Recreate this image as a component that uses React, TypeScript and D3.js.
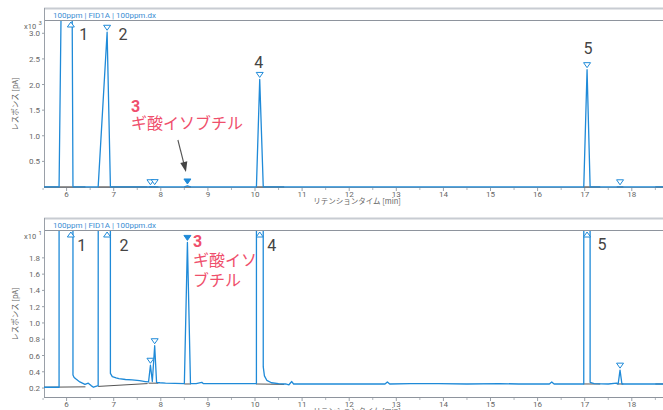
import * as d3 from "d3";

const W = 663;
const H = 410;

// chromatogram, retention time [min] / response [pA]
const signal: [number, number][] = [
  [5.52, 2.1], [5.7, 2.1], [5.84, 2.1], [5.89, 4000], [6.09, 9000], [6.135, 3.6],
  [6.16, 3.3], [6.2, 3.1], [6.28, 2.75], [6.39, 2.45], [6.46, 2.6], [6.52, 2.3],
  [6.57, 2.1], [6.62, 2.2], [6.67, 2.3], [6.86, 3020], [6.93, 3.8], [6.97, 3.4],
  [7.05, 3.25], [7.11, 3.15], [7.25, 3.05], [7.39, 3.0], [7.55, 2.9], [7.67, 2.8],
  [7.74, 2.75], [7.78, 4.8], [7.82, 2.8], [7.87, 7.2], [7.91, 2.7], [7.98, 2.65],
  [8.1, 2.6], [8.3, 2.58], [8.5, 2.55], [8.565, 19.9], [8.63, 2.55], [8.75, 2.55],
  [8.87, 2.7], [8.9, 2.55], [9.2, 2.55], [9.6, 2.55], [9.9, 2.55], [10.03, 2.55],
  [10.1, 2100], [10.175, 4.6], [10.2, 3.5], [10.25, 2.95], [10.35, 2.65], [10.5, 2.55],
  [10.65, 2.5], [10.72, 2.4], [10.78, 2.8], [10.82, 2.5], [11.2, 2.5], [11.6, 2.5],
  [12.0, 2.5], [12.5, 2.5], [12.76, 2.5], [12.81, 2.75], [12.86, 2.5], [13.3, 2.55],
  [13.9, 2.55], [14.5, 2.5], [15.2, 2.55], [15.6, 2.5], [16.1, 2.5], [16.25, 2.5],
  [16.3, 2.75], [16.35, 2.5], [16.7, 2.5], [16.98, 2.5], [17.05, 2290], [17.115, 2.7],
  [17.2, 2.55], [17.5, 2.5], [17.68, 2.6], [17.71, 2.5], [17.75, 4.2], [17.79, 2.5],
  [18.0, 2.5], [18.3, 2.5], [18.7, 2.5],
];

// integration baselines [t0, pA0, t1, pA1]
const baselines: [number, number, number, number][] = [
  [5.52, 2.1, 6.4, 2.15],
  [6.67, 2.2, 7.72, 2.55],
  [7.74, 2.6, 7.95, 2.6],
  [8.5, 2.5, 8.64, 2.5],
  [10.02, 2.5, 10.62, 2.45],
  [16.97, 2.5, 17.33, 2.5],
  [17.68, 2.5, 17.82, 2.5],
  [18.5, 2.5, 18.7, 2.5],
];

// detected peak apexes
const peakTimes = [6.09, 6.86, 7.78, 7.87, 8.565, 10.1, 17.05, 17.75];
const peakHeights = [9000, 3020, 4.8, 7.2, 19.9, 2100, 2290, 4.2];
const peakFilled = [false, false, false, false, true, false, false, false];

const xTicks = d3.range(6, 19, 1);
const xMinor = d3.range(5.5, 19, 1);
const topTicks = [0.5, 1.0, 1.5, 2.0, 2.5, 3.0];
const bottomTicks = [0.2, 0.4, 0.6, 0.8, 1.0, 1.2, 1.4, 1.6, 1.8];

const title = "100ppm | FID1A | 100ppm.dx";
const xTitle = "リテンションタイム [min]";
const yTitle = "レスポンス [pA]";
const compound = "ギ酸イソブチル";

const BLUE = "#1f8ad8";
const PINK = "#ef4f6c";
const FONT = "Roboto, 'Noto Sans CJK JP', Arial, sans-serif";
const JP = "'Noto Sans CJK JP', Roboto, sans-serif";

const left = 44;
const x = d3.scaleLinear().domain([5.52, 19]).range([left, left + 47.1 * 13.48]);

const panels = [
  { id: "a", frameTop: 8, plotTop: 21, plotBottom: 187, exp: 3, domain: [0, 3.24], ticks: topTicks },
  { id: "b", frameTop: 218, plotTop: 231, plotBottom: 397, exp: 1, domain: [0.09, 2.13], ticks: bottomTicks },
];

function Panel({ p }: { p: (typeof panels)[number] }) {
  const k = Math.pow(10, p.exp);
  const y = d3.scaleLinear().domain(p.domain).range([p.plotBottom, p.plotTop]);
  const line = d3
    .line<[number, number]>()
    .x((d) => x(d[0]))
    .y((d) => y(d[1] / k));
  const fmt = d3.format(".1f");

  const markers = peakTimes.map((t, i) => {
    const cx = x(t);
    const ay = y(peakHeights[i] / k);
    if (ay < p.plotTop + 8) {
      const ty = p.plotTop + 1;
      return { d: `M${cx},${ty}L${cx - 3.5},${ty + 5}L${cx + 3.5},${ty + 5}Z`, filled: peakFilled[i] };
    }
    const ty = ay - 7;
    return { d: `M${cx - 3.5},${ty}L${cx + 3.5},${ty}L${cx},${ty + 5}Z`, filled: peakFilled[i] };
  });

  const top = p.id === "a";
  const lbl = (n: string, t: number, dx: number, by: number) => (
    <text key={n} x={x(t) + dx} y={by} textAnchor="middle" fontSize={16} fill="#444" fontFamily={FONT}>
      {n}
    </text>
  );

  const tip = { x: x(8.565) - 1.5, y: y(0) - 15 };

  return (
    <g>
      <defs>
        <clipPath id={`clip-${p.id}`}>
          <rect x={left} y={p.plotTop} width={W - left + 40} height={p.plotBottom - p.plotTop + 1} />
        </clipPath>
      </defs>
      {/* frame + title bar */}
      <line x1={left} x2={W + 10} y1={p.frameTop + 0.5} y2={p.frameTop + 0.5} stroke="#c8ccd2" strokeWidth={2} />
      <line x1={left} x2={W + 10} y1={p.plotTop - 0.5} y2={p.plotTop - 0.5} stroke="#8e949d" />
      <line x1={left + 0.5} x2={left + 0.5} y1={p.frameTop} y2={p.plotBottom} stroke="#9aa0a8" />
      <line x1={left} x2={W + 10} y1={p.plotBottom + 0.5} y2={p.plotBottom + 0.5} stroke="#8e949d" />
      <text x={53} y={p.frameTop + 9.5} fontSize={8} fill="#3b8ed3" fontFamily={FONT}>
        {title}
      </text>

      {/* y axis */}
      {p.ticks.map((v) => (
        <g key={v}>
          <line x1={left - 2} x2={left} y1={y(v)} y2={y(v)} stroke="#9aa0a8" />
          <text x={40} y={y(v) + 3} textAnchor="end" fontSize={8} fill="#666" fontFamily={FONT}>
            {fmt(v)}
          </text>
        </g>
      ))}
      <text x={24} y={p.plotTop + 7.5} fontSize={7.5} fill="#666" fontFamily={FONT}>
        x10
      </text>
      <text x={38.5} y={p.plotTop + 4} fontSize={6} fill="#666" fontFamily={FONT}>
        {p.exp}
      </text>
      <text
        transform={`translate(18,${(p.plotTop + p.plotBottom) / 2}) rotate(-90)`}
        textAnchor="middle"
        fontSize={7.5}
        fill="#666"
        fontFamily={JP}
      >
        {yTitle}
      </text>

      {/* x axis */}
      {xMinor.map((t) => (
        <line key={t} x1={x(t)} x2={x(t)} y1={p.plotBottom + 1} y2={p.plotBottom + 3} stroke="#b0b5bb" />
      ))}
      {xTicks.map((t) => (
        <g key={t}>
          <line x1={x(t)} x2={x(t)} y1={p.plotBottom + 1} y2={p.plotBottom + 4} stroke="#9aa0a8" />
          <text x={x(t)} y={p.plotBottom + 9.5} textAnchor="middle" fontSize={8} fill="#666" fontFamily={FONT}>
            {t}
          </text>
        </g>
      ))}
      <text x={357} y={p.plotBottom + 17} textAnchor="middle" fontSize={7.5} fill="#666" fontFamily={JP}>
        {xTitle}
      </text>

      {/* data */}
      <g clipPath={`url(#clip-${p.id})`}>
        {baselines.map((b, i) => (
          <line key={i} x1={x(b[0])} y1={y(b[1] / k)} x2={x(b[2])} y2={y(b[3] / k)} stroke="#555" strokeWidth={1} />
        ))}
        <path d={line(signal) ?? ""} fill="none" stroke={BLUE} strokeWidth={1.3} strokeLinejoin="round" />
      </g>
      {markers.map((m, i) => (
        <path key={i} d={m.d} fill={m.filled ? BLUE : "white"} stroke={BLUE} strokeWidth={1} />
      ))}

      {/* annotations */}
      {top ? (
        <g>
          {lbl("1", 6.09, 13, 40)}
          {lbl("2", 6.86, 16, 40)}
          {lbl("4", 10.1, -1, 68)}
          {lbl("5", 17.05, 1, 54)}
          <text x={131} y={112} fontSize={16} fontWeight="bold" fill={PINK} fontFamily={FONT}>
            3
          </text>
          <text x={131} y={129} fontSize={16} fill={PINK} fontFamily={JP}>
            {compound}
          </text>
          <line x1={tip.x - 8} y1={tip.y - 32} x2={tip.x - 2.2} y2={tip.y - 9} stroke="#555" strokeWidth={1.1} />
          <path
            d={`M${tip.x},${tip.y}L${tip.x - 5.6},${tip.y - 9}L${tip.x + 1.4},${tip.y - 10.8}Z`}
            fill="#444"
          />
        </g>
      ) : (
        <g>
          {lbl("1", 6.09, 11, 251)}
          {lbl("2", 6.86, 17, 251)}
          {lbl("4", 10.1, 12, 251)}
          {lbl("5", 17.05, 15, 250)}
          <text x={x(8.565) + 5.5} y={246.5} fontSize={16} fontWeight="bold" fill={PINK} fontFamily={FONT}>
            3
          </text>
          <text x={x(8.565) + 5.5} y={266} fontSize={16} fill={PINK} fontFamily={JP}>
            {compound.slice(0, 4)}
          </text>
          <text x={x(8.565) + 5.5} y={286} fontSize={16} fill={PINK} fontFamily={JP}>
            {compound.slice(4)}
          </text>
        </g>
      )}
    </g>
  );
}

export default function App() {
  return (
    <svg
      width={W}
      height={H}
      style={{ position: "absolute", left: 0, top: 0, background: "white" }}
    >
      {panels.map((p) => (
        <Panel key={p.id} p={p} />
      ))}
    </svg>
  );
}
